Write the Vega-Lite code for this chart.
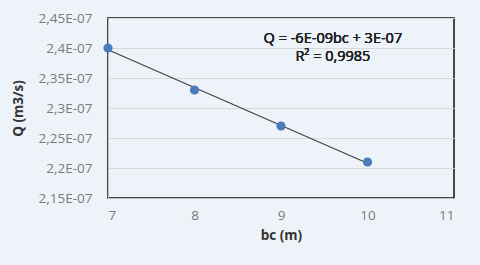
{
  "$schema": "https://vega.github.io/schema/vega-lite/v6.json",
  "width": 346,
  "height": 180,
  "autosize": {"type": "none"},
  "padding": {"left": 108, "top": 18, "right": 26, "bottom": 67},
  "background": "#eef3fa",
  "config": {
    "view": {"stroke": "#111111", "strokeWidth": 1.5},
    "font": "Open Sans",
    "axis": {
      "labelFont": "Open Sans",
      "titleFont": "Open Sans",
      "labelColor": "#7a7a7a",
      "titleColor": "#333333",
      "labelFontSize": 13.5,
      "titleFontSize": 13.5,
      "titleFontWeight": "bold",
      "ticks": false,
      "labelOverlap": false,
      "labelBound": false,
      "domainColor": "#bdbdbd",
      "gridColor": "#d9d9d9",
      "zindex": 1
    }
  },
  "data": {
    "values": [
      {"bc": 7, "Q": 2.40e-7},
      {"bc": 8, "Q": 2.33e-7},
      {"bc": 9, "Q": 2.27e-7},
      {"bc": 10, "Q": 2.21e-7}
    ]
  },
  "layer": [
    {
      "transform": [{"regression": "Q", "on": "bc", "method": "linear"}],
      "mark": {"type": "line", "color": "#404040", "strokeWidth": 1.2},
      "encoding": {
        "x": {
          "field": "bc", "type": "quantitative",
          "scale": {"domain": [7, 11], "nice": false, "zero": false},
          "axis": {"title": "bc (m)", "values": [7, 8, 9, 10, 11], "tickCount": 10, "format": "d", "grid": false, "labelPadding": 10, "titlePadding": 7}
        },
        "y": {
          "field": "Q", "type": "quantitative",
          "scale": {"domain": [2.15e-7, 2.45e-7], "nice": false, "zero": false},
          "axis": {
            "title": "Q (m3/s)",
            "values": [2.15e-7, 2.2e-7, 2.25e-7, 2.3e-7, 2.35e-7, 2.4e-7, 2.45e-7],
            "tickCount": 10,
            "labelExpr": "replace(format(datum.value*1e7, '.2~f'), '.', ',') + 'E-07'",
            "labelPadding": 16,
            "titlePadding": 13
          }
        }
      }
    },
    {
      "mark": {"type": "point", "filled": true, "color": "#4a7ebb", "opacity": 1, "size": 85},
      "encoding": {
        "x": {"field": "bc", "type": "quantitative"},
        "y": {"field": "Q", "type": "quantitative"}
      }
    },
    {
      "mark": {"type": "text", "align": "center", "baseline": "middle", "fontSize": 14.5, "color": "#222222"},
      "encoding": {
        "x": {"datum": 9.6},
        "y": {"datum": 2.415e-7},
        "text": {"value": "Q = -6E-09bc + 3E-07"}
      }
    },
    {
      "mark": {"type": "text", "align": "center", "baseline": "middle", "fontSize": 14.5, "color": "#222222"},
      "encoding": {
        "x": {"datum": 9.6},
        "y": {"datum": 2.385e-7},
        "text": {"value": "R² = 0,9985"}
      }
    }
  ]
}
